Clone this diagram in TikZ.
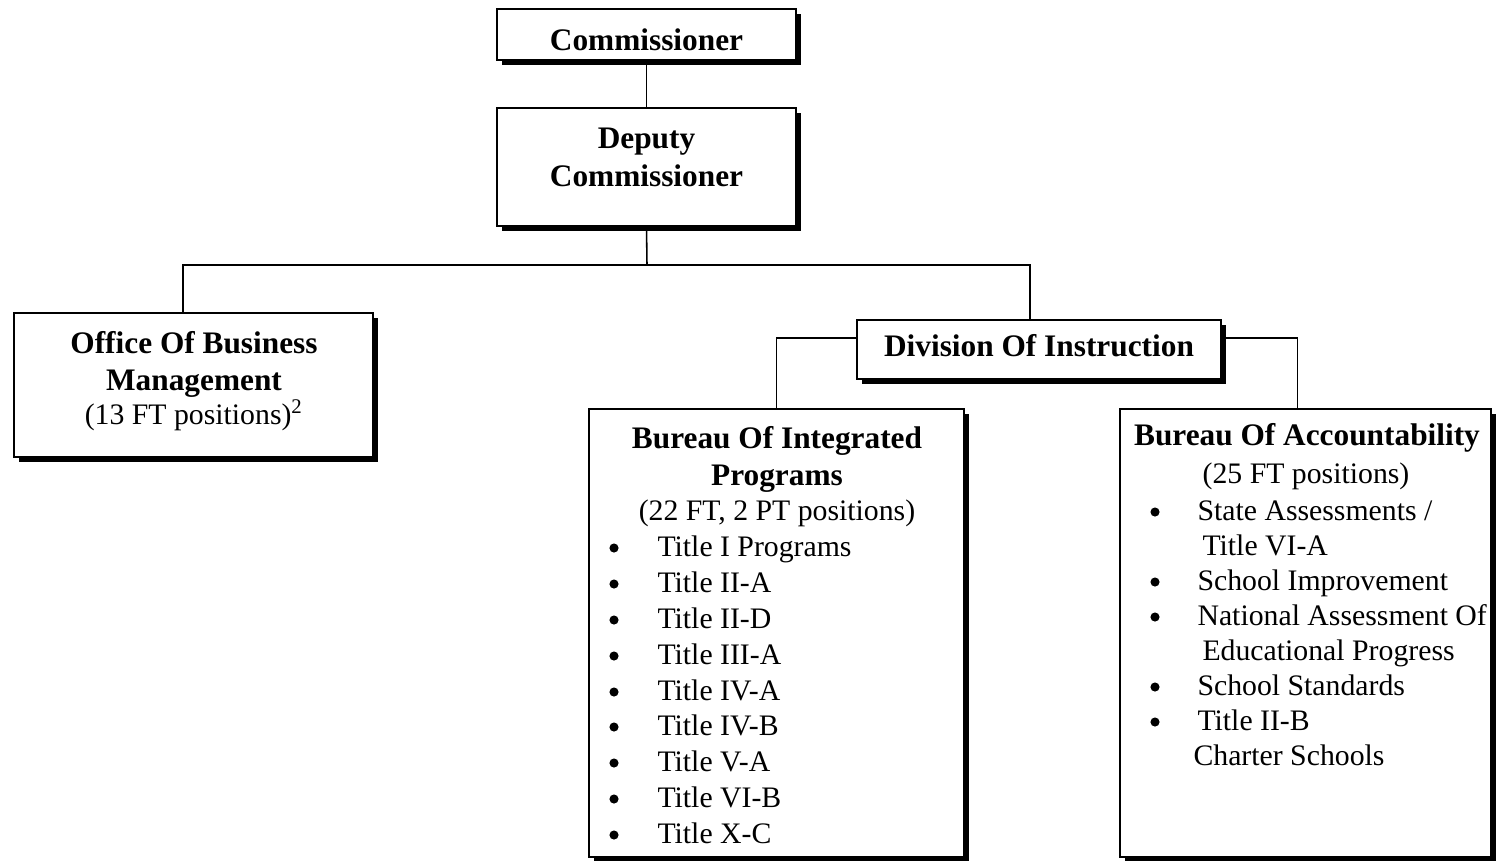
\documentclass[tikz,border=0pt]{standalone}
\usepackage{fontspec}
\setmainfont{Liberation Serif}
\usetikzlibrary{shadows}
\newcommand\pxu{0.383pt}
\tikzset{
  orgbox/.style={draw, fill=white, line width=0.6pt, inner sep=0pt,
    drop shadow={shadow xshift=2pt, shadow yshift=-2pt, fill=black, opacity=1}},
  link/.style={line width=0.6pt},
  lbl/.style={anchor=base, inner sep=0pt, font=\fontsize{12pt}{14pt}\selectfont\bfseries},
  sub/.style={anchor=base, inner sep=0pt, font=\fontsize{11.4pt}{14pt}\selectfont},
  item/.style={anchor=base west, inner sep=0pt, font=\fontsize{11.4pt}{14pt}\selectfont},
  dot/.style={circle, fill, inner sep=0pt, minimum size=3.5pt},
}
\begin{document}
\begin{tikzpicture}[x=\pxu, y=-\pxu]
  \useasboundingbox (0,0) rectangle (1496,860);
  \node[orgbox, minimum width=299*\pxu, minimum height=51*\pxu] (comm) at (646.5,34.5) {};
  \node[orgbox, minimum width=299*\pxu, minimum height=118*\pxu] (dep) at (646.5,167) {};
  \node[orgbox, minimum width=359*\pxu, minimum height=144*\pxu] (office) at (193.5,385) {};
  \node[orgbox, minimum width=364*\pxu, minimum height=59*\pxu] (div) at (1039,349.5) {};
  \node[orgbox, minimum width=375*\pxu, minimum height=448*\pxu] (intg) at (776.5,633) {};
  \node[orgbox, minimum width=371*\pxu, minimum height=448*\pxu] (acct) at (1305.5,633) {};
  \coordinate (bar) at (647,265);
  \draw[link] (comm.south) -- (dep.north);
  \draw[link] (dep.south) -- (bar);
  \draw[link] ([xshift=-4pt]office.north) |- (bar) -| ([xshift=-3.5pt]div.north);
  \draw[link] ([yshift=4.4pt]div.west) -| (intg.north);
  \draw[link] ([yshift=4.4pt]div.east) -| ([xshift=-3pt]acct.north);
  \node[lbl] (commT) at (646.5,50) {Commissioner};
  \node[lbl] (depT1) at (646.5,148) {Deputy};
  \node[lbl] (depT2) at (646.5,186) {Commissioner};
  \node[lbl] (officeT1) at (194,353) {Office Of Business};
  \node[lbl] (officeT2) at (194,390) {Management};
  \node[sub] (officeT3) at (194,424) {(13 FT positions)\textsuperscript{2}};
  \node[lbl] (divT) at (1039,356) {Division Of Instruction};
  \node[lbl] (intgT1) at (777,448) {Bureau Of Integrated};
  \node[lbl] (intgT2) at (777,485) {Programs};
  \node[sub] (intgT3) at (777,520) {(22 FT, 2 PT positions)};
  \foreach \y/\lab in {556/Title I Programs, 592/Title II-A, 628/Title II-D, 664/Title III-A,
      700/Title IV-A, 735/Title IV-B, 771/Title V-A, 807/Title VI-B, 843/Title X-C} {
    \node[dot] (intgB\y) at (614,\y-8) {};
    \node[item] (intgI\y) at (657,\y) {\lab};
  }
  \node[lbl] (acctT1) at (1307,445) {Bureau Of Accountability};
  \node[sub] (acctT2) at (1306,483) {(25 FT positions)};
  \foreach \y/\lab in {520/{State Assessments /}, 590/School Improvement,
      625/National Assessment Of, 695/School Standards, 730/Title II-B} {
    \node[dot] (acctB\y) at (1155,\y-8) {};
    \node[item] (acctI\y) at (1197,\y) {\lab};
  }
  \node[item] (acctI555) at (1202,555) {Title VI-A};
  \node[item] (acctI660) at (1202,660) {Educational Progress};
  \node[item] (acctI765) at (1193,765) {Charter Schools};
\end{tikzpicture}
\end{document}
